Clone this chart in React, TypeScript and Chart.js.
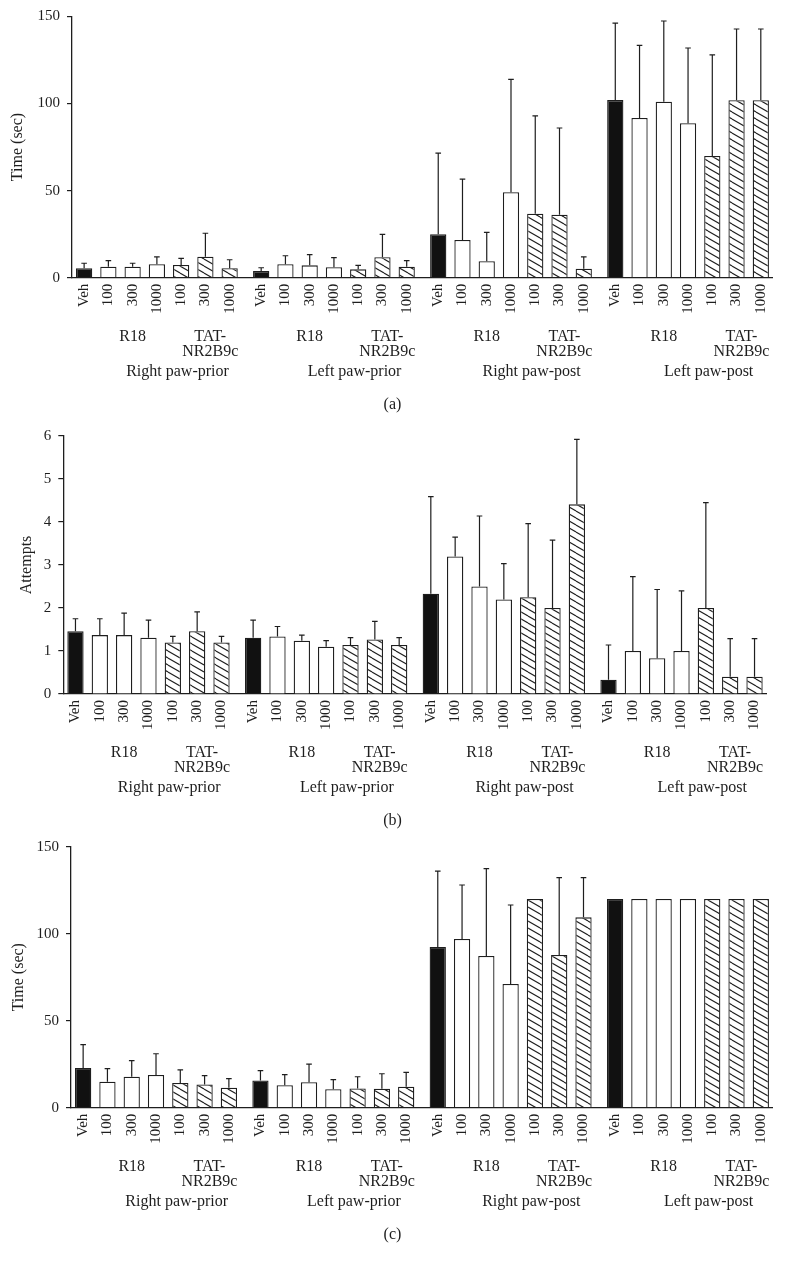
import React, { useEffect, useRef } from "react";
import { Chart, registerables } from "chart.js";

Chart.register(...registerables);

// ---------- data ----------
const conditions = ["Right paw-prior", "Left paw-prior", "Right paw-post", "Left paw-post"];
const treatmentLabels = ["Veh", "100", "300", "1000", "100", "300", "1000"];
const treatmentKinds = ["veh", "r18", "r18", "r18", "tat", "tat", "tat"];
const drugR18 = ["R18"];
const drugTAT = ["TAT-", "NR2B9c"];
const captions = ["(a)", "(b)", "(c)"];

// (a) Time (sec)
const panelAMeans = [
  5.4, 6.3, 6.3, 7.7, 7.3, 12.0, 5.4,
  3.8, 7.7, 7.1, 6.0, 4.8, 11.7, 6.3,
  24.9, 21.6, 9.4, 49.0, 36.7, 36.1, 5.2,
  101.9, 91.6, 101.0, 88.6, 69.8, 101.8, 101.8,
];
const panelAUpper = [
  8.3, 9.8, 8.3, 12.0, 11.1, 25.5, 10.3,
  5.7, 12.6, 13.2, 11.5, 7.1, 24.9, 9.8,
  71.5, 56.6, 26.0, 113.8, 92.9, 85.9, 12.0,
  146.1, 133.3, 147.3, 131.8, 127.9, 142.7, 142.7,
];
const panelATicks = [0, 50, 100, 150];

// (b) Attempts
const panelBMeans = [
  1.46, 1.37, 1.37, 1.31, 1.2, 1.46, 1.2,
  1.31, 1.34, 1.24, 1.1, 1.14, 1.27, 1.14,
  2.33, 3.2, 2.5, 2.2, 2.25, 2.0, 4.41,
  0.33, 1.0, 0.83, 1.0, 2.0, 0.4, 0.4,
];
const panelBUpper = [
  1.75, 1.75, 1.88, 1.72, 1.34, 1.91, 1.34,
  1.72, 1.57, 1.37, 1.24, 1.31, 1.69, 1.31,
  4.59, 3.65, 4.14, 3.03, 3.96, 3.58, 5.92,
  1.14, 2.73, 2.43, 2.4, 4.45, 1.29, 1.29,
];
const panelBTicks = [0, 1, 2, 3, 4, 5, 6];

// (c) Time (sec)
const panelCMeans = [
  22.8, 14.9, 17.8, 18.8, 14.2, 13.4, 11.5,
  15.7, 12.9, 14.6, 10.6, 11.1, 10.9, 12.1,
  92.4, 97.0, 87.2, 71.1, 120, 87.8, 109.4,
  120, 120, 120, 120, 120, 120, 120,
];
const panelCUpper: (number | null)[] = [
  36.2, 22.4, 27.0, 31.0, 21.7, 18.4, 16.7,
  21.3, 19.0, 25.1, 16.1, 17.8, 19.5, 20.3,
  136, 128, 137.4, 116.5, null, 132.2, 132.2,
  null, null, null, null, null, null, null,
];
const panelCTicks = [0, 50, 100, 150];

// ---------- layout constants ----------
const GROUP_STRIDE = 7.3; // bar slots between group starts (includes group gap)
const FONT = '"Liberation Serif", "Times New Roman", serif';
const INK = "#1e1e1e";

type PanelCfg = {
  top: number;
  height: number;
  axisWidth: number;
  padTop: number;
  padRight: number;
  plotBottom: number;
  titlePad: number;
  yTitle: string;
  ticks: number[];
  means: number[];
  upper: (number | null)[];
  caption: string;
};

const panels: PanelCfg[] = [
  { top: 0, height: 420, axisWidth: 72, padTop: 16.3, padRight: 11, plotBottom: 277.7, titlePad: 8.4, yTitle: "Time (sec)", ticks: panelATicks, means: panelAMeans, upper: panelAUpper, caption: captions[0] },
  { top: 420, height: 410, axisWidth: 63.3, padTop: 11.7, padRight: 18.3, plotBottom: 274, titlePad: 17, yTitle: "Attempts", ticks: panelBTicks, means: panelBMeans, upper: panelBUpper, caption: captions[1] },
  { top: 830, height: 433, axisWidth: 71, padTop: 16.7, padRight: 11, plotBottom: 277.7, titlePad: 9.4, yTitle: "Time (sec)", ticks: panelCTicks, means: panelCMeans, upper: panelCUpper, caption: captions[2] },
];

function makeHatch(): CanvasPattern | string {
  const c = document.createElement("canvas");
  const w = 12, h = 7;
  c.width = w;
  c.height = h;
  const ctx = c.getContext("2d");
  if (!ctx) return "#fff";
  ctx.fillStyle = "#ffffff";
  ctx.fillRect(0, 0, w, h);
  ctx.strokeStyle = INK;
  ctx.lineWidth = 1.1;
  for (let k = -1; k <= 1; k++) {
    ctx.beginPath();
    ctx.moveTo(0, k * h);
    ctx.lineTo(w, (k + 1) * h);
    ctx.stroke();
  }
  const p = ctx.createPattern(c, "repeat");
  return p || "#fff";
}

const errorBarPlugin = {
  id: "errorBars",
  afterDatasetsDraw(chart: any, _args: any, opts: any) {
    const upper: (number | null)[] = opts.upper || [];
    const ys = chart.scales.y;
    const meta = chart.getDatasetMeta(0);
    const ctx = chart.ctx;
    ctx.save();
    ctx.strokeStyle = INK;
    ctx.lineWidth = 1.2;
    meta.data.forEach((bar: any, i: number) => {
      const u = upper[i];
      if (u == null) return;
      const yTop = ys.getPixelForValue(u);
      ctx.beginPath();
      ctx.moveTo(bar.x, bar.y);
      ctx.lineTo(bar.x, yTop);
      ctx.moveTo(bar.x - 2.8, yTop);
      ctx.lineTo(bar.x + 2.8, yTop);
      ctx.stroke();
    });
    ctx.restore();
  },
};

const groupLabelPlugin = {
  id: "groupLabels",
  afterDraw(chart: any, _args: any, opts: any) {
    const xs = chart.scales.x;
    const bottom = chart.chartArea.bottom;
    const ctx = chart.ctx;
    ctx.save();
    ctx.fillStyle = INK;
    ctx.font = `16px ${FONT}`;
    ctx.textAlign = "center";
    ctx.textBaseline = "alphabetic";
    conditions.forEach((cond, g) => {
      const base = g * GROUP_STRIDE;
      drugR18.forEach((t, li) => ctx.fillText(t, xs.getPixelForValue(base + 2), bottom + 63 + li * 15));
      drugTAT.forEach((t, li) => ctx.fillText(t, xs.getPixelForValue(base + 5.2), bottom + 63 + li * 15));
      ctx.fillText(cond, xs.getPixelForValue(base + 3.85), bottom + 98);
    });
    ctx.fillText(opts.caption, chart.width / 2, bottom + 131);
    ctx.restore();
  },
};

function Panel({ cfg }: { cfg: PanelCfg }) {
  const ref = useRef<HTMLCanvasElement | null>(null);
  useEffect(() => {
    if (!ref.current) return;
    const hatch = makeHatch();
    const xs: number[] = [];
    const labels: string[] = [];
    conditions.forEach((_c, g) => {
      treatmentLabels.forEach((t, i) => {
        xs.push(g * GROUP_STRIDE + i);
        labels.push(t);
      });
    });
    const data = cfg.means.map((v, i) => ({ x: xs[i], y: v }));
    const bg = xs.map((_x, i) => {
      const k = treatmentKinds[i % 7];
      return k === "veh" ? "#111111" : k === "tat" ? hatch : "#ffffff";
    });
    const yMax = cfg.ticks[cfg.ticks.length - 1];
    const chart = new Chart(ref.current, {
      type: "bar",
      data: {
        datasets: [
          {
            data: data as any,
            backgroundColor: bg as any,
            borderColor: INK,
            borderWidth: 1.3,
            barPercentage: 0.67,
            categoryPercentage: 1,
          },
        ],
      },
      options: {
        responsive: false,
        animation: false,
        devicePixelRatio: 1,
        layout: { padding: { top: cfg.padTop, right: cfg.padRight, left: 0, bottom: 0 } },
        plugins: {
          legend: { display: false },
          tooltip: { enabled: false },
          errorBars: { upper: cfg.upper },
          groupLabels: { caption: cfg.caption },
        } as any,
        scales: {
          x: {
            type: "linear",
            min: -0.5,
            max: 3 * GROUP_STRIDE + 6.5,
            offset: false,
            grid: { display: false, drawTicks: false },
            border: { display: true, color: INK, width: 1.3 },
            afterBuildTicks: (axis: any) => {
              axis.ticks = xs.map((v) => ({ value: v }));
            },
            afterFit: (axis: any) => {
              axis.height = cfg.height - cfg.plotBottom;
            },
            ticks: {
              autoSkip: false,
              minRotation: 90,
              maxRotation: 90,
              padding: 6,
              color: INK,
              font: { family: FONT, size: 15 },
              callback: (_v: any, i: number) => labels[i],
            },
          },
          y: {
            min: 0,
            max: yMax,
            afterBuildTicks: (axis: any) => {
              axis.ticks = cfg.ticks.map((v) => ({ value: v }));
            },
            afterFit: (axis: any) => {
              axis.width = cfg.axisWidth;
            },
            grid: { display: true, drawOnChartArea: false, drawTicks: true, tickLength: 5, color: INK, lineWidth: 1.2 },
            border: { display: true, color: INK, width: 1.3 },
            ticks: {
              padding: 7,
              color: INK,
              font: { family: FONT, size: 15 },
            },
            title: {
              display: true,
              text: cfg.yTitle,
              color: INK,
              font: { family: FONT, size: 16 },
              padding: { top: cfg.titlePad, bottom: 0 },
            },
          },
        },
      } as any,
      plugins: [errorBarPlugin, groupLabelPlugin],
    });
    return () => chart.destroy();
  }, [cfg]);
  return (
    <div style={{ position: "absolute", left: 0, top: cfg.top, width: 785, height: cfg.height }}>
      <canvas ref={ref} width={785} height={cfg.height} style={{ display: "block" }} />
    </div>
  );
}

export default function App() {
  return (
    <div style={{ position: "absolute", left: 0, top: 0, width: 785, height: 1263, background: "#ffffff" }}>
      {panels.map((p, i) => (
        <Panel key={i} cfg={p} />
      ))}
    </div>
  );
}
